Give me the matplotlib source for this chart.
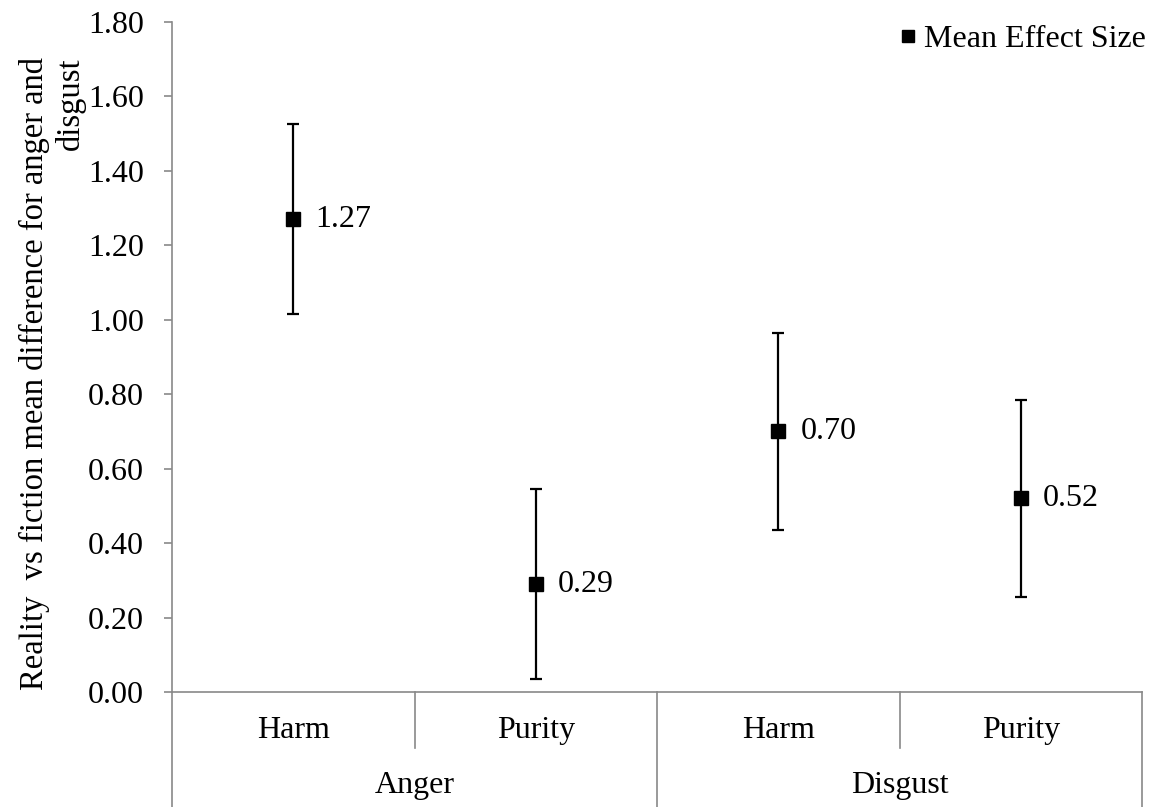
import matplotlib
matplotlib.use('Agg')
import matplotlib.pyplot as plt
from matplotlib.lines import Line2D

plt.rcParams['font.family'] = ['Liberation Serif', 'DejaVu Serif']

emotions = ['Anger', 'Disgust']
domains = ['Harm', 'Purity', 'Harm', 'Purity']
means = [1.27, 0.29, 0.70, 0.52]
errors = [0.255, 0.255, 0.265, 0.265]

grey = '#898989'
fs = 23

fig = plt.figure(figsize=(11.55, 8.07), dpi=100)
ax = fig.add_axes([172 / 1155, 115 / 807, 970 / 1155, 670 / 807])

x = [i + 0.5 for i in range(len(means))]
ax.errorbar(x, means, yerr=errors, fmt='s', color='black', markersize=10,
            elinewidth=1.6, capsize=4.5, capthick=1.6, ecolor='black')

for xi, m in zip(x, means):
    ax.annotate(f'{m:.2f}', (xi, m), xytext=(16, 0), textcoords='offset points',
                va='center', ha='left', fontsize=fs)

ax.set_xlim(0, 4)
ax.set_ylim(0, 1.8)
ax.set_yticks([i * 0.2 for i in range(10)])
ax.set_yticklabels([f'{i * 0.2:.2f}' for i in range(10)], fontsize=fs)
ax.set_xticks([])

for s in ['top', 'right']:
    ax.spines[s].set_visible(False)
for s in ['left', 'bottom']:
    ax.spines[s].set_color(grey)
    ax.spines[s].set_linewidth(1.2)
ax.tick_params(axis='y', direction='out', length=6, width=1.2, color=grey, pad=14)

ax.set_ylabel('Reality  vs fiction mean difference for anger and\ndisgust',
              fontsize=23.5, labelpad=2, linespacing=1.2, multialignment='right')
ax.yaxis.label.set_position((0, 0.475))

# two-level category axis
tr = ax.get_xaxis_transform()
for xb in [0, 2, 4]:
    ax.add_line(Line2D([xb, xb], [0, -0.175], transform=tr, color=grey,
                       lw=1.2, clip_on=False))
for xb in [1, 3]:
    ax.add_line(Line2D([xb, xb], [0, -0.084], transform=tr, color=grey,
                       lw=1.2, clip_on=False))

for xi, d in zip(x, domains):
    ax.text(xi, -0.057, d, transform=tr, ha='center', va='center', fontsize=fs)
for i, e in enumerate(emotions):
    ax.text(2 * i + 1, -0.139, e, transform=tr, ha='center', va='center', fontsize=fs)

handle = Line2D([], [], marker='s', color='black', linestyle='none', markersize=9)
fig.legend([handle], ['Mean Effect Size'], loc='upper right',
           bbox_to_anchor=(1168 / 1155, 1 - 2 / 807), frameon=False,
           fontsize=fs, handletextpad=0.0, handlelength=1.0, borderpad=0.2)

fig.savefig('out.png', dpi=100)
